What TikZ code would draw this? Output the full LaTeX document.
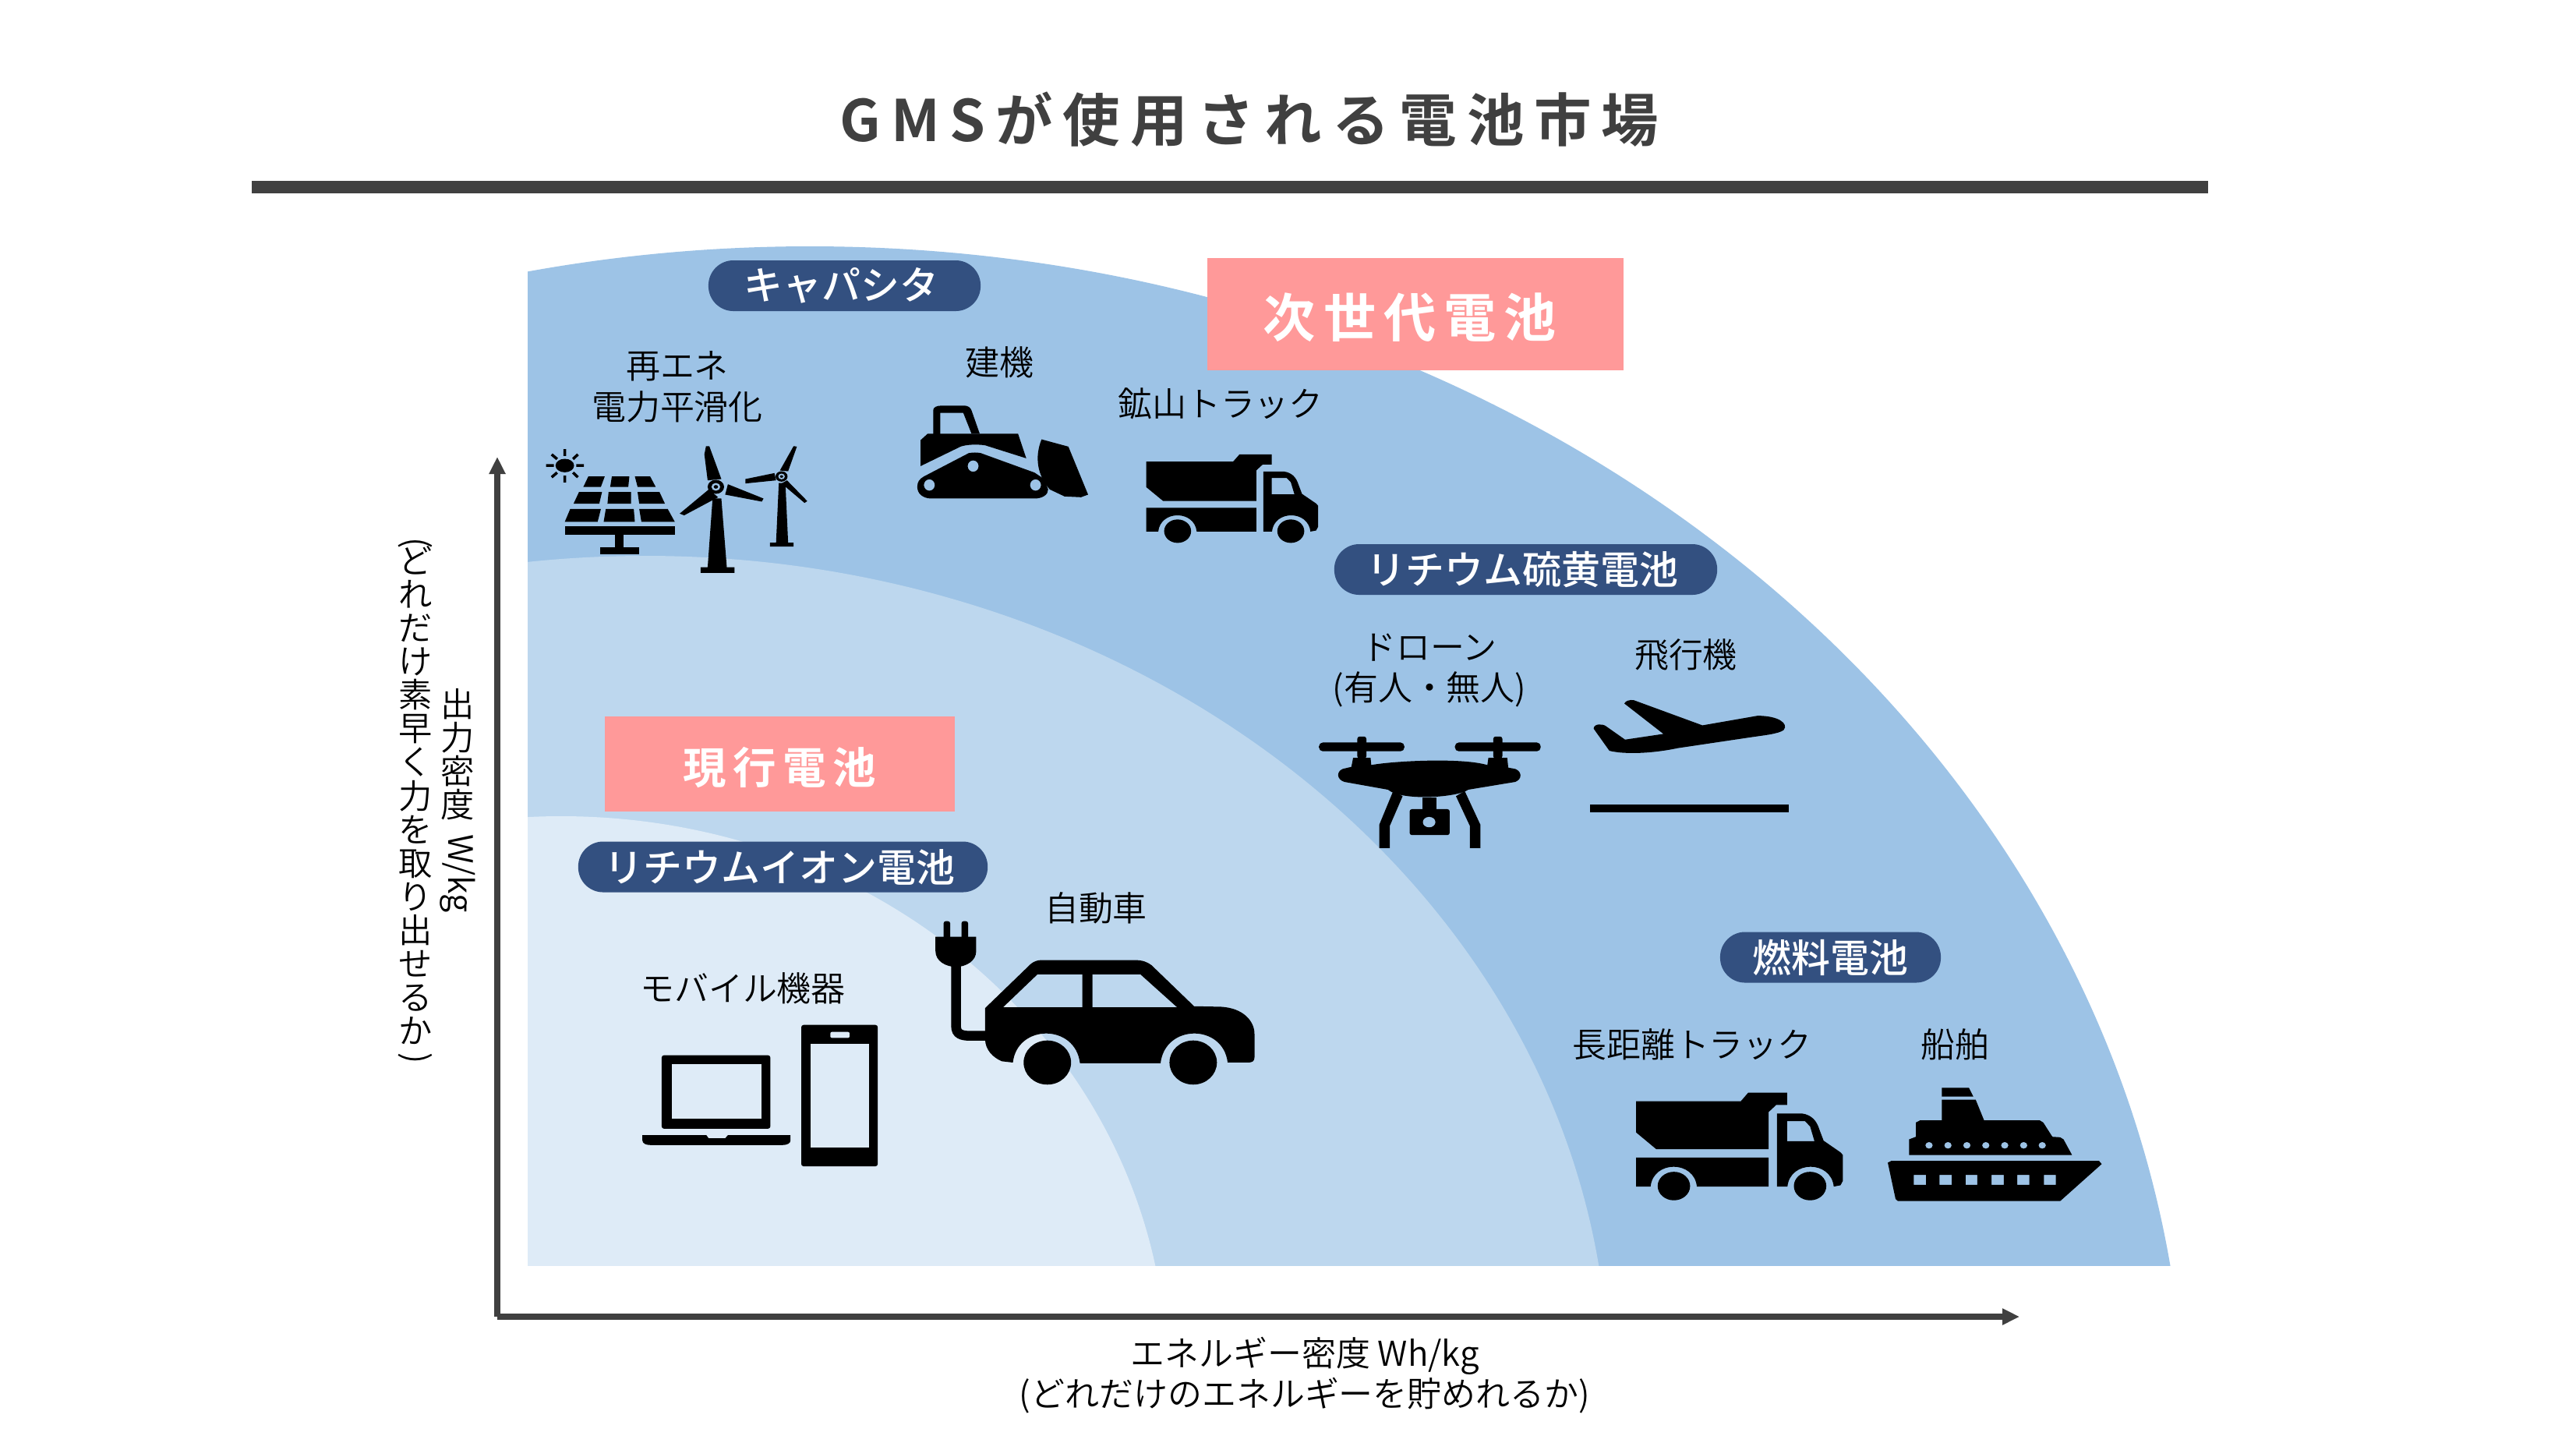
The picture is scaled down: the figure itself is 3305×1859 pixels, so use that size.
\documentclass[tikz,border=0pt]{standalone}
\usepackage{fontspec}
\usepackage{graphicx}
\usetikzlibrary{arrows.meta}
\setmainfont{Noto Sans CJK JP DemiLight}
\newfontfamily\boldfontx[LetterSpace=17.5]{Noto Sans CJK JP Bold}
\newfontfamily\medfont{Noto Sans CJK JP Medium}
\newfontfamily\spacedfont[LetterSpace=15]{Noto Sans CJK JP Bold}
\definecolor{arcouter}{HTML}{9DC3E6}
\definecolor{arcmiddle}{HTML}{BDD7EE}
\definecolor{arcinner}{HTML}{DEEBF7}
\definecolor{pinkbox}{HTML}{FF9999}
\definecolor{pillblue}{HTML}{335080}
\definecolor{darkgray}{HTML}{404040}
\newcommand{\vrot}[1]{\rotatebox{-90}{#1}}
\newcommand{\pilltext}[1]{\hspace*{-2.2pt}#1}
\tikzset{
  label text/.style={inner sep=0pt,align=center,text=black,font=\fontsize{12.5}{15}\selectfont},
  vertical label/.style={inner sep=0pt,align=center,text=black,font=\fontsize{12.3}{12.25}\selectfont},
  pill/.style={fill=pillblue,rounded corners=0.32cm,inner sep=0pt,text=white,minimum height=0.65cm,font=\medfont\fontsize{14.2}{16}\selectfont},
  pinkstyle/.style={fill=pinkbox,inner sep=0pt,text=white},
  axis line/.style={draw=darkgray,line width=0.08cm,-{Triangle[length=0.22cm,width=0.2cm]}},
  zoomA/.style={shift={(660,300)},x=0.0070175cm,y=-0.003333cm},
  zoomB/.style={shift={(780,1130)},x=0.0057405cm,y=-0.003333cm},
  zoomC/.style={shift={(1660,780)},x=0.0044643cm,y=-0.003333cm},
  zoomD/.style={shift={(2060,1360)},x=0.0043365cm,y=-0.003333cm},
  zoomE/.style={shift={(1438.1,548.8)},x=0.0036cm,y=-0.002733cm},
  ink/.style={fill=black,even odd rule},
}
\newcommand{\dumptruck}{%
  \fill[ink] (90,158)--(400,158)--(422,125)--(537,125)--(537,172)--(505,172)--(482,200)--(482,343)--(150,343)--(90,278)--cycle;
  \fill[ink] (90,375)--(482,375)--(482,487)--(270,487) .. controls (262,385) and (141,385) .. (133,487)--(90,487)--cycle;
  \fill[ink] (202,485) ellipse [x radius=48,y radius=55];
  \fill[ink] (507,205)--(580,205) .. controls (610,210) and (625,235) .. (632,265)--(645,310)--(695,355)--(702,365)--(702,465)--(695,482)--(675,487) .. controls (667,385) and (546,385) .. (538,487)--(507,487)--cycle
    (537,235)--(590,235)--(605,255)--(618,312)--(537,312)--cycle;
  \fill[ink] (605,485) ellipse [x radius=48,y radius=55];
}
\begin{document}
\begin{tikzpicture}[x=0.01cm,y=-0.01cm]
\useasboundingbox (0,0) rectangle (3305,1859);
\fill[white] (0,0) rectangle (3305,1859);

% title
\node[inner sep=0pt,text=darkgray] (title) at (1603,153) {\boldfontx\fontsize{20.9}{24}\selectfont GMSが使用される電池市場};
\fill[darkgray] (323,232) rectangle (2833,248);

% arcs
\begin{scope}
\clip (677,0) rectangle (3305,1623);
\fill[arcouter] (1039,1853) ellipse [x radius=1765,y radius=1537];
\fill[arcmiddle] (828,1777) ellipse [x radius=1236,y radius=1064];
\fill[arcinner] (720,1763) ellipse [x radius=777,y radius=716];
\end{scope}

% axes
\coordinate (origin) at (638,1689);
\coordinate (ytip) at (638,586);
\coordinate (xtip) at (2591,1689);
\draw[axis line] (origin) -- (ytip);
\draw[axis line] (origin) -- (xtip);

% pink boxes
\node[pinkstyle,minimum width=5.34cm,minimum height=1.44cm] (nextgen) at (1816,403) {\hspace*{-4pt}\raisebox{-8.4pt}[0pt][0pt]{\spacedfont\fontsize{19.1}{22}\selectfont 次世代電池}};
\node[pinkstyle,minimum width=4.49cm,minimum height=1.21cm] (current) at (1000.5,980) {\raisebox{-7.2pt}[0pt][0pt]{\spacedfont\fontsize{15.8}{19}\selectfont 現行電池}};

% pills
\node[pill,minimum width=3.49cm] (capacitor) at (1083.5,366.5) {\pilltext{キャパシタ}};
\node[pill,minimum width=4.91cm] (lis) at (1957.5,730.5) {\pilltext{リチウム硫黄電池}};
\node[pill,minimum width=5.25cm] (liion) at (1004.5,1112) {\pilltext{リチウムイオン電池}};
\node[pill,minimum width=2.83cm] (fuel) at (2348.5,1228) {燃料電池};

% labels
\node[label text] (renew) at (869,496) {再エネ\\電力平滑化};
\node[label text] (constr) at (1282,465) {建機};
\node[label text] (mine) at (1566,518) {鉱山トラック};
\node[label text] (drone) at (1834,860) {ドローン\\(有人・無人)};
\node[label text] (plane) at (2163,840) {飛行機};
\node[label text] (auto) at (1406,1165) {自動車};
\node[label text] (mobile) at (953,1268) {モバイル機器};
\node[label text] (longtruck) at (2171,1340) {長距離トラック};
\node[label text] (ship) at (2508,1340) {船舶};
\node[label text] (xlabel) at (1674,1764) {エネルギー密度 Wh/kg\\(どれだけのエネルギーを貯めれるか)};
\node[vertical label] (ylabelA) at (587,1027) {出\\力\\密\\度\\[-6pt]\vrot{W/kg}};
\node[vertical label] (ylabelB) at (533,1027) {\vrot{(}\\[-2pt]ど\\れ\\だ\\け\\素\\早\\く\\力\\を\\取\\り\\出\\せ\\る\\か\\[-9pt]\vrot{)}};

% solar panel, turbines, bulldozer
\begin{scope}[zoomA]
\fill[ink] (92,893) ellipse [x radius=17,y radius=26];
\draw[line width=0.035cm] (92,830)--(92,856) (92,932)--(92,958) (58,893)--(72,893) (113,893)--(127,893)
  (68,850)--(78,868) (116,850)--(107,868) (68,938)--(78,920) (116,938)--(107,920);
\fill[ink] (135,935)--(165,935)--(158,975)--(126,975)--cycle (178,935)--(210,935)--(208,975)--(175,975)--cycle (220,935)--(248,935)--(258,975)--(225,975)--cycle;
\fill[ink] (118,995)--(160,995)--(155,1040)--(108,1040)--cycle (172,995)--(213,995)--(213,1040)--(170,1040)--cycle (225,995)--(265,995)--(275,1040)--(228,1040)--cycle;
\fill[ink] (102,1060)--(158,1060)--(152,1110)--(92,1110)--cycle (167,1060)--(218,1060)--(220,1110)--(163,1110)--cycle (228,1060)--(280,1060)--(293,1110)--(232,1110)--cycle;
\fill[ink] (92,1128) rectangle (293,1160);
\fill[ink] (183,1160) rectangle (200,1207);
\fill[ink] (156,1207) rectangle (228,1235);
% large turbine
\fill[ink] (362,1020)--(378,1020)--(388,1285)--(402,1285)--(402,1307)--(340,1307)--(340,1285)--(353,1285)--cycle;
\fill[ink] (350,818)--(356,818)--(378,945)--(353,950)--(347,850)--cycle;
\fill[ink] (390,965)--(455,1020)--(452,1032)--(385,1005)--cycle;
\fill[ink] (355,985)--(372,1015)--(310,1085)--(302,1078)--cycle;
\fill[ink] (368,975) ellipse [x radius=15,y radius=27];
\fill[arcouter] (368,975) ellipse [x radius=8,y radius=15];
\fill[ink] (368,975) ellipse [x radius=4,y radius=7];
% small turbine
\fill[ink] (483,960)--(495,960)--(500,1190)--(510,1190)--(510,1205)--(467,1205)--(467,1190)--(478,1190)--cycle;
\fill[ink] (485,912)--(510,818)--(516,820)--(500,915)--cycle;
\fill[ink] (475,922)--(478,950)--(422,962)--(422,945)--cycle;
\fill[ink] (498,950)--(535,1030)--(530,1037)--(488,962)--cycle;
\fill[ink] (488,935) ellipse [x radius=11,y radius=20];
\fill[arcouter] (488,935) ellipse [x radius=6,y radius=11];
\fill[ink] (488,935) ellipse [x radius=3,y radius=5];
% bulldozer
\fill[ink] (765,775)--(765,680) .. controls (765,668) and (772,662) .. (780,662)--(820,662) .. controls (830,662) and (833,670) .. (835,680)--(850,770)--(835,770)--(820,690)--(778,690)--(778,775)--cycle;
\fill[ink] (742,895)--(742,795)--(755,770)--(920,770)--(935,865)--(860,815) .. controls (845,810) and (825,812) .. (815,820)--cycle;
\fill[ink] (830,845) .. controls (838,842) and (845,842) .. (852,845)--(950,920)--(968,945)--(975,985) .. controls (975,1005) and (965,1020) .. (950,1020)--(760,1020) .. controls (745,1018) and (736,1000) .. (736,975) .. controls (736,955) and (740,945) .. (748,935)--cycle
  (838,895) ellipse [x radius=10,y radius=22] (758,968) ellipse [x radius=10,y radius=22] (952,968) ellipse [x radius=10,y radius=22];
\fill[ink] (963,792)--(1012,820)--(1048,1005)--(1035,1015)--(1005,1012)--(978,985) .. controls (955,930) and (950,860) .. cycle;
\end{scope}
\begin{scope}[zoomE]\dumptruck\end{scope}
\begin{scope}[zoomD]\dumptruck
% ship
\fill[ink] (835,395)--(845,388)--(1460,388)--(1468,400)--(1345,543)--(865,543)--(858,535)--cycle
  (912,442) rectangle (948,480) (988,442) rectangle (1024,480) (1065,442) rectangle (1100,480) (1142,442) rectangle (1178,480) (1218,442) rectangle (1254,480) (1297,442) rectangle (1332,480);
\fill[ink] (898,365)--(898,305)--(918,295)--(918,240)--(930,232)--(995,232)--(995,152)--(1095,152)--(1120,232)--(1285,232)--(1295,240)--(1322,295)--(1345,297)--(1355,305)--(1380,365)--cycle
  (957,328) ellipse [x radius=11,y radius=13] (1013,328) ellipse [x radius=11,y radius=13] (1069,328) ellipse [x radius=11,y radius=13] (1125,328) ellipse [x radius=11,y radius=13] (1181,328) ellipse [x radius=11,y radius=13] (1237,328) ellipse [x radius=11,y radius=13] (1292,328) ellipse [x radius=11,y radius=13];
\fill[ink] (995,106)--(1075,106)--(1088,140)--(995,140)--cycle;
\end{scope}

% drone, aeroplane
\begin{scope}[zoomC]
\fill[ink,rounded corners=0.05cm] (72,518) rectangle (317,552);
\fill[ink,rounded corners=0.05cm] (462,518) rectangle (708,552);
\fill[ink,rounded corners=0.03cm] (182,495) rectangle (208,580);
\fill[ink,rounded corners=0.03cm] (572,495) rectangle (598,580);
\fill[ink] (165,612)--(170,577)--(220,577)--(222,605) .. controls (280,590) and (480,575) .. (555,605)--(558,577)--(612,577)--(615,615)--(635,620) .. controls (655,630) and (655,660) .. (635,670)--(500,700) .. controls (470,730) and (310,745) .. (270,700)--(145,670) .. controls (122,660) and (122,630) .. (140,620)--cycle;
\fill[ink] (285,705)--(312,725)--(275,840)--(275,925)--(245,925)--(245,835)--cycle;
\fill[ink] (490,705)--(465,725)--(505,840)--(505,925)--(535,925)--(535,835)--cycle;
\fill[ink] (368,730) rectangle (408,780);
\fill[ink,rounded corners=0.03cm] (332,775) rectangle (447,875);
\fill[arcouter] (388,825) ellipse [x radius=18,y radius=20];
\fill[ink] (948,368) .. controls (950,358) and (965,352) .. (975,355)--(1172,452)--(1330,415) .. controls (1390,415) and (1420,445) .. (1405,470) .. controls (1390,485) and (1350,490) .. (1300,500)--(1100,540) .. controls (1030,560) and (950,565) .. (905,550)--(860,465) .. controls (860,445) and (885,445) .. (895,455)--(950,507)--(1060,485)--cycle;
\fill[ink] (850,757) rectangle (1420,788);
\end{scope}

% car and devices
\begin{scope}[zoomB]
\fill[ink] (843,490)--(945,320) .. controls (952,310) and (960,305) .. (970,305)--(1175,305) .. controls (1195,305) and (1205,312) .. (1215,325)--(1310,483)--(1370,485) .. controls (1420,490) and (1445,540) .. (1445,590)--(1445,680) .. controls (1445,695) and (1440,700) .. (1430,700)--(1385,700) .. controls (1375,550) and (1245,550) .. (1235,703)--(1055,703) .. controls (1045,550) and (915,550) .. (905,700)--(880,695) .. controls (860,680) and (843,650) .. (843,610)--cycle
  (883,487)--(960,360)--(1060,360)--(1060,487)--cycle
  (1083,360)--(1190,360)--(1272,487)--(1083,487)--cycle;
\fill[ink] (982,700) ellipse [x radius=53,y radius=85];
\fill[ink] (1308,700) ellipse [x radius=53,y radius=85];
\draw[line width=0.125cm] (778,325)--(778,560) .. controls (778,590) and (790,597) .. (810,597)--(850,597);
\fill[ink] (732,215)--(823,215)--(823,270) .. controls (823,310) and (800,330) .. (778,332) .. controls (755,330) and (732,310) .. (732,270)--cycle;
\fill[ink,rounded corners=0.03cm] (750,155) rectangle (765,230);
\fill[ink,rounded corners=0.03cm] (790,155) rectangle (805,230);
% laptop
\fill[ink,rounded corners=0.03cm] (120,672) rectangle (363,955);
\fill[arcinner] (142,705) rectangle (344,917);
\fill[ink] (77,980)--(220,980)--(225,992)--(262,992)--(268,980)--(408,980)--(408,1000) .. controls (408,1012) and (400,1018) .. (390,1018)--(95,1018) .. controls (85,1018) and (77,1012) .. (77,1000)--cycle;
% phone
\fill[ink,rounded corners=0.03cm] (432,555) rectangle (603,1100);
\fill[arcinner] (453,628) rectangle (583,1027);
\fill[arcinner,rounded corners=0.02cm] (497,582) rectangle (540,605);
\end{scope}
\end{tikzpicture}
\end{document}
